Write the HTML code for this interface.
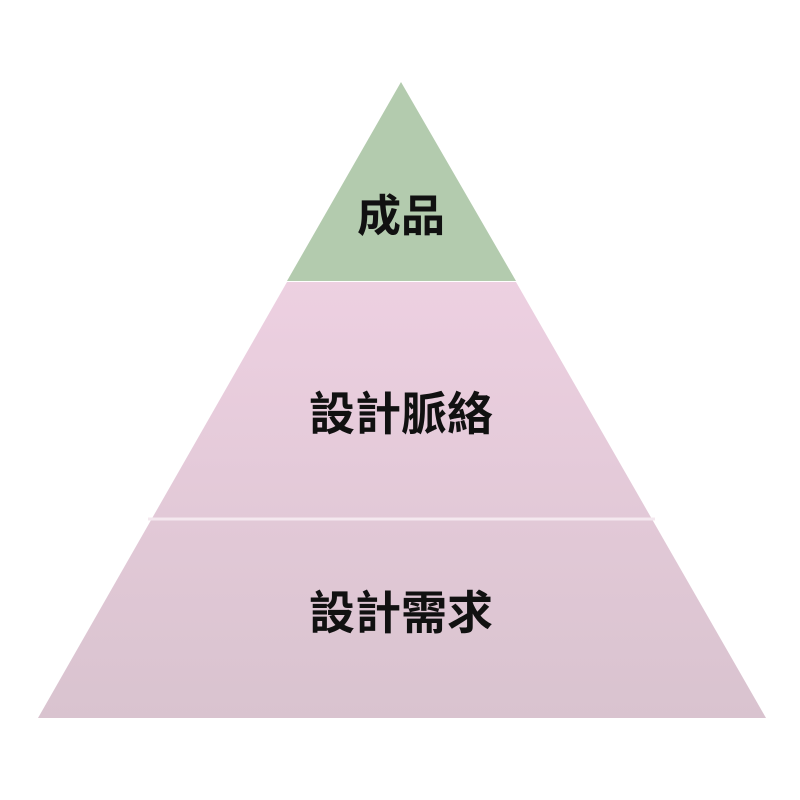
<!DOCTYPE html>
<html><head><meta charset="utf-8"><style>
html,body{margin:0;padding:0;background:#fff;}
svg{display:block}
text{font-family:"Liberation Sans","Noto Sans CJK TC",sans-serif;font-weight:bold;fill:#111;text-anchor:middle;}
</style></head><body>
<svg width="800" height="800" viewBox="0 0 800 800" xmlns="http://www.w3.org/2000/svg">
<defs>
<linearGradient id="g1" gradientUnits="userSpaceOnUse" x1="0" y1="282" x2="0" y2="718">
<stop offset="0" stop-color="#edd0e1"/><stop offset="1" stop-color="#d9c3cf"/>
</linearGradient>
</defs>
<polygon points="401,82 516,281 287,281" fill="#b3cbae"/>
<polygon points="287,282 516,282 766,718 38,718" fill="url(#g1)"/>
<line x1="148" y1="519" x2="655" y2="519" stroke="#f4e8ef" stroke-width="3"/>
<text x="401" y="231" font-size="44">成品</text>
<text x="401" y="430" font-size="46">設計脈絡</text>
<text x="401" y="629" font-size="46">設計需求</text>
</svg>
</body></html>
